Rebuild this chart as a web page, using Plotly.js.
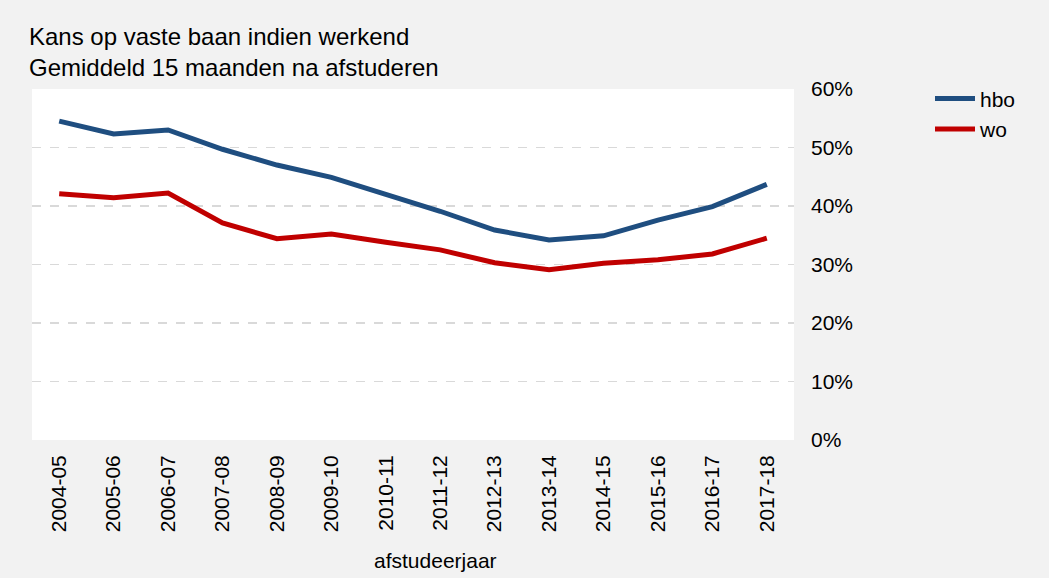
<!DOCTYPE html>
<html>
<head>
<meta charset="utf-8">
<script src="https://cdn.plot.ly/plotly-3.0.1.min.js"></script>
<style>html,body{margin:0;padding:0;background:#f2f2f2;}#chart{width:1049px;height:578px;}</style>
</head>
<body>
<div id="chart"></div>
<script>
const categories = ["2004-05","2005-06","2006-07","2007-08","2008-09","2009-10","2010-11","2011-12","2012-13","2013-14","2014-15","2015-16","2016-17","2017-18"];
const hbo = [0.545,0.523,0.530,0.497,0.470,0.449,0.420,0.391,0.359,0.342,0.349,0.376,0.399,0.437];
const wo  = [0.421,0.414,0.422,0.371,0.344,0.352,0.338,0.325,0.303,0.291,0.302,0.308,0.318,0.345];
const yTicks = [0,0.1,0.2,0.3,0.4,0.5,0.6];
const titleLines = ["Kans op vaste baan indien werkend","Gemiddeld 15 maanden na afstuderen"];
const xTitle = "afstudeerjaar";

const font = "Arial, 'Liberation Sans', sans-serif";
const traces = [
  {x: categories, y: hbo, name: "hbo", type: "scatter", mode: "lines",
   line: {color: "#1F4E80", width: 5}},
  {x: categories, y: wo, name: "wo", type: "scatter", mode: "lines",
   line: {color: "#C00000", width: 5}}
];
const layout = {
  width: 1049, height: 578,
  paper_bgcolor: "#f2f2f2", plot_bgcolor: "#ffffff",
  margin: {l: 32, r: 255, t: 89, b: 138, pad: 0},
  font: {family: font, color: "#000000", size: 21},
  title: {text: titleLines.join("<br>"), font: {family: font, size: 24, color: "#000000"},
          xref: "container", yref: "container", x: 29/1049, xanchor: "left",
          y: 1 - 45/578, yanchor: "top"},
  showlegend: true,
  legend: {x: (930-32)/762, xanchor: "left", y: 1.03, yanchor: "top",
           bgcolor: "rgba(0,0,0,0)", font: {family: font, size: 21, color: "#000000"},
           itemwidth: 40, tracegroupgap: 0},
  xaxis: {type: "category", range: [-0.5, 13.5], tickangle: -90,
          showgrid: false, zeroline: false, showline: false, ticks: "",
          tickfont: {family: font, size: 21, color: "#000000"}, ticklabelstandoff: 10},
  yaxis: {side: "right", range: [0, 0.6], tickvals: yTicks, tickformat: ".0%",
          showgrid: true, gridcolor: "#d9d9d9", gridwidth: 1.5, griddash: "dash",
          zeroline: false, showline: false, ticks: "",
          tickfont: {family: font, size: 21, color: "#000000"}, ticklabelstandoff: 16},
  annotations: [{text: xTitle, xref: "paper", yref: "paper", x: (435-32)/762, y: -(560-440)/351,
                 xanchor: "center", yanchor: "middle", showarrow: false,
                 font: {family: font, size: 21, color: "#000000"}}]
};
Plotly.newPlot("chart", traces, layout, {displayModeBar: false, staticPlot: true});
</script>
</body>
</html>
